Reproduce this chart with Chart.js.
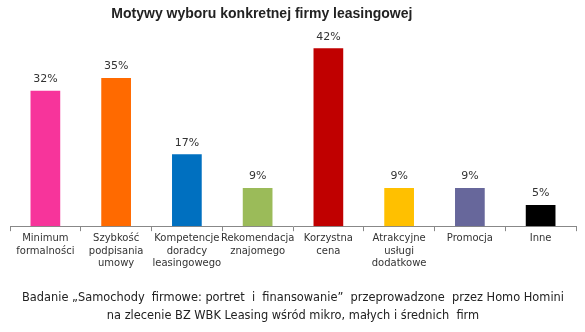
<!DOCTYPE html>
<html>
<head>
<meta charset="utf-8">
<script src="https://cdn.jsdelivr.net/npm/chart.js@4"></script>
<style>
  html, body { margin: 0; padding: 0; background: #fff; }
  #wrap { width: 585px; height: 332px; }
</style>
</head>
<body>
<div id="wrap"><canvas id="chart"></canvas></div>
<script>
const categories = [
  ["Minimum", "formalności"],
  ["Szybkość", "podpisania", "umowy"],
  ["Kompetencje", "doradcy", "leasingowego"],
  ["Rekomendacja", "znajomego"],
  ["Korzystna", "cena"],
  ["Atrakcyjne", "usługi", "dodatkowe"],
  ["Promocja"],
  ["Inne"]
];
const values = [32, 35, 17, 9, 42, 9, 9, 5];
const barColors = ["#F7349B", "#FF6A00", "#0070C0", "#9BBB59", "#C00000", "#FFC000", "#67679B", "#000000"];
// trailing non-breaking spaces push the centred title left, as in the original
const titleText = "Motywy wyboru konkretnej firmy leasingowej" + "\u00A0".repeat(16);
const footText = [
  "Badanie „Samochody  firmowe: portret  i  finansowanie”  przeprowadzone  przez Homo Homini",
  "na zlecenie BZ WBK Leasing wśród mikro, małych i średnich  firm"
];

const FONT = "'DejaVu Sans', sans-serif";

// percent labels above each bar
const valueLabels = {
  id: "valueLabels",
  afterDatasetsDraw(chart) {
    const ctx = chart.ctx;
    const meta = chart.getDatasetMeta(0);
    ctx.save();
    ctx.font = "11px " + FONT;
    ctx.fillStyle = "#333";
    ctx.textAlign = "center";
    ctx.textBaseline = "bottom";
    meta.data.forEach((bar, i) => {
      ctx.fillText(values[i] + "%", bar.x, bar.y - 6);
    });
    ctx.restore();
  }
};

new Chart(document.getElementById("chart"), {
  type: "bar",
  data: {
    labels: categories,
    datasets: [{
      data: values,
      backgroundColor: barColors,
      barPercentage: 0.42,
      categoryPercentage: 1
    }]
  },
  options: {
    responsive: true,
    maintainAspectRatio: false,
    animation: false,
    layout: { padding: { left: 10, right: 9, top: 0, bottom: 4 } },
    plugins: {
      legend: { display: false },
      tooltip: { enabled: false },
      title: {
        display: true,
        text: titleText,
        color: "#222",
        font: { family: "'Liberation Sans', sans-serif", size: 14, weight: "bold", lineHeight: 1.2 },
        padding: { top: 6, bottom: 17 }
      },
      subtitle: {
        display: true,
        position: "bottom",
        text: footText,
        color: "#222",
        font: { family: FONT, size: 11.4, lineHeight: 1.55 },
        padding: { top: 19, bottom: 3 }
      }
    },
    scales: {
      x: {
        grid: { display: true, drawOnChartArea: false, drawTicks: true, tickLength: 5, color: "#888", offset: true },
        border: { display: true, color: "#888" },
        ticks: { color: "#333", font: { family: FONT, size: 10, lineHeight: 1.25 }, maxRotation: 0, autoSkip: false, padding: 1 }
      },
      y: {
        display: false,
        min: 0,
        max: 44
      }
    }
  },
  plugins: [valueLabels]
});
</script>
</body>
</html>
